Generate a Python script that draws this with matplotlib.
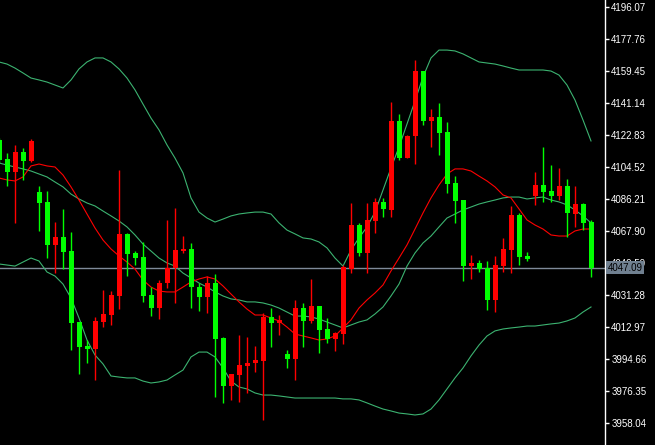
import numpy as np
import matplotlib.pyplot as plt

# OHLC, one entry per bar (oldest first)
opens = [4120.1, 4109.3, 4101.8, 4113.3, 4108.1, 4090.4, 4084.7, 4060.1, 4064.6, 4056.6,
         4016.0, 4002.3, 4000.6, 4016.0, 4020.0, 4030.9, 4066.4, 4055.5, 4053.2, 4031.5,
         4024.0, 4038.3, 4046.9, 4056.6, 4057.8, 4036.0, 4030.3, 4038.3, 4006.9, 3979.4,
         3985.7, 3990.8, 3992.5, 3993.7, 4018.9, 4015.4, 3997.7, 3994.8, 4024.0, 4016.6,
         4025.2, 4012.0, 4006.3, 4009.1, 4046.3, 4071.5, 4055.5, 4073.8, 4084.7, 4080.1,
         4131.0, 4109.8, 4122.4, 4159.6, 4131.0, 4133.3, 4124.7, 4095.5, 4085.8, 4048.0,
         4049.8, 4046.9, 4028.6, 4048.0, 4057.2, 4077.2, 4053.8, 4088.1, 4094.4, 4091.0,
         4088.1, 4093.8, 4077.8, 4083.5, 4073.2]
highs = [4121.3, 4112.7, 4117.3, 4115.6, 4120.7, 4093.8, 4091.0, 4073.2, 4080.7, 4067.5,
         4016.0, 4005.7, 4018.9, 4034.3, 4033.7, 4103.0, 4066.9, 4056.6, 4061.8, 4036.0,
         4040.0, 4074.4, 4081.2, 4065.2, 4061.2, 4038.3, 4042.3, 4043.5, 4007.4, 3986.3,
         4008.6, 4007.4, 4002.3, 4021.2, 4024.0, 4020.0, 4000.0, 4028.6, 4026.9, 4040.6,
         4025.2, 4018.3, 4010.3, 4048.6, 4084.1, 4072.7, 4084.1, 4087.0, 4087.0, 4141.9,
         4135.0, 4123.0, 4165.9, 4159.6, 4137.9, 4141.3, 4130.4, 4099.5, 4085.8, 4054.3,
         4051.5, 4050.9, 4053.8, 4064.1, 4082.4, 4078.4, 4056.1, 4101.8, 4116.1, 4105.8,
         4104.1, 4097.8, 4093.8, 4084.1, 4074.4]
lows = [4107.0, 4093.8, 4072.7, 4097.3, 4107.6, 4068.1, 4052.6, 4044.0, 4046.3, 4000.0,
        3986.3, 3992.5, 3982.8, 4013.1, 4014.3, 4023.4, 4042.3, 4048.6, 4027.5, 4019.4,
        4017.7, 4035.5, 4026.9, 4055.5, 4024.0, 4022.3, 4021.2, 3973.1, 3969.7, 3971.4,
        3970.2, 3975.4, 3987.4, 3959.9, 4001.7, 4008.6, 3989.7, 3982.8, 4001.7, 4015.4,
        3998.3, 4004.0, 3999.4, 4003.4, 4044.0, 4053.8, 4044.0, 4066.9, 4076.1, 4076.1,
        4108.7, 4109.8, 4106.4, 4128.7, 4116.1, 4111.6, 4089.8, 4072.7, 4039.5, 4040.6,
        4044.6, 4022.9, 4021.7, 4044.6, 4044.0, 4048.6, 4050.9, 4083.0, 4084.7, 4084.7,
        4085.8, 4064.6, 4070.4, 4068.6, 4041.8]
closes = [4108.7, 4101.8, 4113.3, 4108.1, 4119.6, 4084.1, 4060.1, 4064.6, 4056.1, 4015.4,
          4001.7, 4000.6, 4016.6, 4020.6, 4031.5, 4066.4, 4054.9, 4052.6, 4030.9, 4024.0,
          4038.3, 4046.9, 4057.2, 4057.8, 4036.0, 4030.3, 4038.3, 4006.3, 3979.4, 3986.3,
          3991.4, 3992.5, 3994.3, 4018.9, 4015.4, 4017.2, 3994.8, 4024.0, 4016.6, 4025.2,
          4011.4, 4006.3, 4009.7, 4047.5, 4071.5, 4055.5, 4074.4, 4084.7, 4080.7, 4131.0,
          4109.8, 4122.4, 4159.6, 4131.0, 4133.3, 4124.2, 4095.0, 4085.2, 4048.0, 4049.8,
          4046.3, 4028.6, 4048.6, 4057.8, 4077.2, 4053.2, 4052.1, 4094.4, 4090.4, 4088.1,
          4093.8, 4078.4, 4083.5, 4072.7, 4047.09]

# indicators
ma = [4098.4, 4097.3, 4096.7, 4099.0, 4105.3, 4106.4, 4105.3, 4104.7, 4100.1, 4093.3,
      4085.8, 4077.8, 4069.8, 4062.9, 4057.8, 4053.8, 4050.3, 4046.3, 4040.0, 4036.0,
      4033.7, 4033.2, 4033.2, 4036.0, 4038.9, 4040.6, 4041.8, 4040.6, 4036.6, 4032.0,
      4027.5, 4023.4, 4020.0, 4020.0, 4018.3, 4016.6, 4013.1, 4009.1, 4008.0, 4006.9,
      4005.7, 4006.3, 4008.0, 4012.6, 4017.2, 4024.0, 4028.6, 4032.6, 4037.2, 4045.2,
      4052.6, 4060.1, 4069.2, 4078.4, 4087.0, 4094.4, 4100.7, 4103.6, 4103.6, 4102.4,
      4099.5, 4096.7, 4093.3, 4088.7, 4087.0, 4080.7, 4074.4, 4071.5, 4069.2, 4065.8,
      4065.2, 4065.2, 4068.1, 4069.2, 4069.2]
bb_mid = [4107.0, 4105.8, 4104.7, 4103.6, 4102.4, 4100.7, 4099.0, 4096.1, 4093.3, 4089.2,
          4086.4, 4084.1, 4082.4, 4079.5, 4076.7, 4073.8, 4070.4, 4065.8, 4060.6, 4056.6,
          4052.6, 4049.8, 4048.0, 4044.0, 4041.2, 4038.3, 4036.0, 4033.2, 4030.9, 4029.2,
          4028.6, 4027.5, 4027.5, 4026.9, 4025.7, 4024.0, 4021.7, 4019.4, 4019.4, 4018.9,
          4017.7, 4016.0, 4014.3, 4012.6, 4014.3, 4016.0, 4017.2, 4020.6, 4024.6, 4030.9,
          4037.7, 4048.0, 4055.5, 4061.2, 4065.2, 4070.4, 4075.5, 4077.8, 4080.1, 4081.8,
          4083.5, 4084.7, 4085.8, 4087.0, 4087.5, 4087.5, 4086.4, 4087.0, 4087.5, 4085.8,
          4084.7, 4083.0, 4080.1, 4076.7, 4072.7]
bb_up = [4164.8, 4163.6, 4161.3, 4158.5, 4155.6, 4154.5, 4153.3, 4151.6, 4149.9, 4154.5,
         4160.8, 4164.8, 4167.1, 4167.1, 4164.8, 4160.8, 4155.6, 4148.8, 4140.7, 4132.7,
         4125.9, 4117.3, 4109.8, 4101.3, 4087.0, 4078.9, 4075.5, 4073.2, 4074.9, 4076.7,
         4077.8, 4078.4, 4078.9, 4078.9, 4077.8, 4072.7, 4068.6, 4066.4, 4064.1, 4063.5,
         4061.8, 4058.4, 4052.6, 4048.0, 4057.2, 4064.1, 4070.4, 4078.9, 4091.5, 4104.1,
         4116.1, 4129.3, 4142.5, 4156.2, 4167.1, 4171.6, 4171.6, 4171.1, 4169.4, 4167.1,
         4164.8, 4164.2, 4163.6, 4162.5, 4161.3, 4160.2, 4160.2, 4160.2, 4160.2, 4159.6,
         4157.3, 4151.6, 4143.0, 4131.6, 4119.6]
bb_low = [4049.2, 4048.6, 4048.0, 4050.3, 4052.6, 4050.9, 4044.6, 4042.3, 4037.7, 4029.7,
          4018.3, 4005.7, 3997.1, 3992.0, 3985.1, 3984.5, 3984.0, 3984.0, 3982.2, 3981.1,
          3981.7, 3982.8, 3985.7, 3988.5, 3996.0, 3998.8, 3998.8, 3996.0, 3989.7, 3982.2,
          3978.8, 3977.7, 3975.4, 3974.2, 3974.2, 3973.7, 3973.1, 3972.5, 3972.5, 3972.5,
          3972.5, 3972.5, 3972.5, 3972.0, 3972.0, 3971.4, 3969.7, 3967.9, 3966.2, 3965.1,
          3963.9, 3963.4, 3962.8, 3963.4, 3966.2, 3971.4, 3977.7, 3984.0, 3989.7, 3996.6,
          4002.8, 4008.0, 4010.9, 4012.0, 4012.6, 4013.1, 4013.7, 4013.7, 4014.3, 4014.9,
          4015.4, 4016.6, 4018.3, 4021.7, 4024.6]

last_price = 4047.09
yticks = [4196.07 - 18.31 * k for k in range(14)]

o = np.array(opens)
h = np.array(highs)
l = np.array(lows)
c = np.array(closes)
x = np.arange(len(o))
col = np.where(c >= o, "#ff0000", "#00ff00")

fig = plt.figure(figsize=(6.55, 4.45), dpi=100, facecolor="black")
ax = fig.add_axes([0, 0, 605 / 655, 1])
ax.set_facecolor("black")

ax.axhline(last_price, color="#7f8a99", lw=1, zorder=1)

ax.plot(x, bb_up, color="#3cb371", lw=0.8, zorder=2)
ax.plot(x, bb_mid, color="#3cb371", lw=0.8, zorder=2)
ax.plot(x, bb_low, color="#3cb371", lw=0.8, zorder=2)
ax.plot(x, ma, color="#ff0000", lw=0.8, zorder=2)

ax.vlines(x, l, h, colors=col, lw=1, zorder=3)
body = np.maximum(np.abs(c - o), 0.6)
ax.bar(x, body, bottom=np.minimum(o, c), width=0.625, color=col, lw=0, zorder=4)

ax.set_xlim(0.125, 75.75)
ax.set_ylim(3945.62, 4200.25)

for s in ["left", "top", "bottom"]:
    ax.spines[s].set_visible(False)
ax.spines["right"].set_color("white")
ax.spines["right"].set_linewidth(1)
ax.set_xticks([])
ax.yaxis.tick_right()
ax.set_yticks(yticks)
ax.set_yticklabels(["%.2f" % v for v in yticks])
ax.tick_params(axis="y", colors="white", direction="out", length=3,
               width=1, pad=1.5, labelsize=7)
for t in ax.get_yticklabels():
    t.set_family("Liberation Sans")

ax.text(1.004, last_price, "%.2f" % last_price, transform=ax.get_yaxis_transform(),
        ha="left", va="center", fontsize=7, family="Liberation Sans", color="black",
        clip_on=False, zorder=10,
        bbox=dict(boxstyle="square,pad=0.15", fc="#708090", ec="none"))

fig.savefig("out.png", dpi=100, facecolor="black")
